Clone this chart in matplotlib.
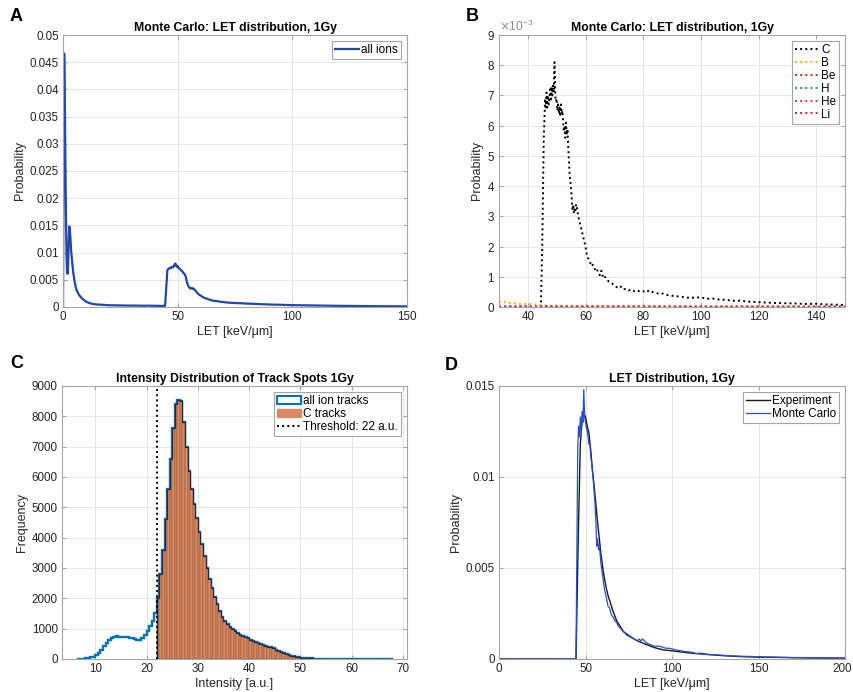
import numpy as np
import matplotlib.pyplot as plt
import matplotlib as mpl
from matplotlib.ticker import FuncFormatter, ScalarFormatter
from matplotlib.patches import Patch
from matplotlib.lines import Line2D
from matplotlib.transforms import ScaledTranslation

mpl.rcParams["font.family"] = ["Liberation Sans", "DejaVu Sans"]
mpl.rcParams["font.size"] = 9
mpl.rcParams["axes.unicode_minus"] = False

# ---- panel A: all ions LET distribution
a_let = [0, 0.25, 0.5, 0.75, 1.0, 1.25, 1.5, 1.75, 2.0, 2.25, 2.5, 2.75, 3.0, 3.25, 3.5,
         4, 4.5, 5, 5.5, 6, 6.5, 7, 8, 9, 10, 11, 12, 13, 14, 15, 17, 19, 21, 23, 25, 27,
         29, 31, 33, 35, 37, 39, 41, 43, 44.5, 45.0, 45.5, 46, 46.5, 47, 47.5, 48, 48.5,
         49, 49.5, 50, 50.5, 51, 51.5, 52, 52.5, 53, 53.5, 54, 54.5, 55, 55.5, 56, 56.5,
         57, 57.5, 58, 58.5, 59, 59.5, 60, 61, 62, 63, 64, 65, 66, 67, 68, 70, 72, 74, 76,
         78, 80, 83, 86, 89, 92, 95, 98, 102, 106, 110, 115, 120, 125, 130, 135, 140, 145, 150]
a_prob = [0.0, 0.030, 0.0466, 0.040, 0.028, 0.018, 0.010, 0.0065, 0.0061, 0.008, 0.0125,
          0.0148, 0.0142, 0.0125, 0.0105, 0.0082, 0.0062, 0.0048, 0.0037, 0.0030, 0.0026,
          0.0022, 0.0017, 0.0013, 0.0010, 0.0008, 0.00065, 0.00055, 0.0005, 0.00045, 0.0004,
          0.00035, 0.0003, 0.0003, 0.00028, 0.00027, 0.00025, 0.00026, 0.00024, 0.00023,
          0.00024, 0.00022, 0.00021, 0.0002, 0.0002, 0.0035, 0.0068, 0.0070, 0.0072, 0.0071,
          0.0074, 0.0073, 0.0077, 0.0080, 0.0074, 0.0075, 0.0071, 0.0070, 0.0067, 0.0066,
          0.0062, 0.0061, 0.0056, 0.0046, 0.0040, 0.0036, 0.0034, 0.0035, 0.0033, 0.0034,
          0.0031, 0.0029, 0.0026, 0.0024, 0.0022, 0.0021, 0.0018, 0.0016, 0.0015, 0.0013,
          0.0012, 0.0011, 0.0011, 0.0010, 0.0009, 0.0008, 0.00075, 0.0007, 0.00068, 0.00062,
          0.00058, 0.00052, 0.00047, 0.00043, 0.0004, 0.00036, 0.00032, 0.0003, 0.00027,
          0.00024, 0.00021, 0.00019, 0.00017, 0.00015, 0.00013, 0.00012, 0.00011]

# ---- panel B: per-ion LET distribution (values in 1e-3)
c_let = [30, 44.5, 45.0, 45.5, 46.0, 46.25, 46.5, 46.75, 47.0, 47.25, 47.5, 47.75, 48.0,
         48.25, 48.5, 48.75, 49.0, 49.25, 49.5, 49.75, 50.0, 50.25, 50.5, 50.75, 51.0, 51.25,
         51.5, 51.75, 52.0, 52.25, 52.5, 52.75, 53.0, 53.25, 53.5, 53.75, 54.0, 54.5, 55.0,
         55.5, 55.75, 56.0, 56.25, 56.5, 56.75, 57.0, 57.5, 58.0, 58.5, 59.0, 59.5, 60.0,
         60.5, 61.0, 61.5, 62.0, 62.5, 63, 63.5, 64, 64.5, 65, 65.5, 66, 66.5, 67, 68, 69,
         70, 71, 72, 73, 74, 75, 76, 77, 78, 79, 80, 81, 82, 83, 84, 85, 86, 88, 90, 92, 94,
         96, 98, 100, 102, 104, 106, 108, 110, 112, 114, 116, 118, 120, 122, 124, 126, 128,
         130, 132, 134, 136, 138, 140, 142, 144, 146, 148, 150]
c_prob_e3 = [0, 0, 2.0, 5.5, 6.9, 6.6, 7.1, 6.6, 7.0, 6.7, 6.9, 7.2, 6.8, 7.3, 7.0, 7.4,
             7.1, 8.1, 7.0, 6.8, 6.9, 6.5, 6.7, 6.4, 6.6, 6.3, 6.7, 6.4, 6.5, 6.1, 5.8, 6.0,
             5.6, 6.1, 5.7, 5.9, 5.3, 4.4, 3.9, 3.2, 3.4, 3.1, 3.3, 3.2, 3.4, 3.3, 3.0, 2.8,
             2.6, 2.4, 2.2, 2.0, 1.7, 1.6, 1.5, 1.35, 1.4, 1.3, 1.2, 1.25, 1.1, 1.05, 1.2,
             1.0, 1.05, 0.95, 0.85, 0.8, 0.7, 0.65, 0.7, 0.58, 0.6, 0.55, 0.58, 0.52, 0.55,
             0.5, 0.52, 0.48, 0.55, 0.5, 0.48, 0.45, 0.47, 0.4, 0.37, 0.35, 0.33, 0.3, 0.31,
             0.32, 0.27, 0.28, 0.25, 0.24, 0.22, 0.2, 0.21, 0.18, 0.17, 0.16, 0.15, 0.14,
             0.13, 0.13, 0.12, 0.12, 0.11, 0.1, 0.1, 0.11, 0.09, 0.08, 0.08, 0.07, 0.07]
b_let = [30, 31, 32, 33, 34, 35, 36, 37, 38, 39, 40, 41, 42, 43, 44, 45, 46, 48, 50, 55, 60,
         70, 80, 100, 150]
b_prob_e3 = [0.18, 0.15, 0.17, 0.13, 0.14, 0.12, 0.13, 0.10, 0.11, 0.10, 0.09, 0.10, 0.08,
             0.09, 0.07, 0.06, 0.05, 0.04, 0.04, 0.03, 0.03, 0.02, 0.02, 0.015, 0.01]
minor_let = [30, 60, 90, 120, 150]
be_prob_e3 = [0.02, 0.015, 0.012, 0.01, 0.01]
h_prob_e3 = [0.006, 0.005, 0.004, 0.004, 0.003]
he_prob_e3 = [0.004, 0.003, 0.003, 0.002, 0.002]
li_prob_e3 = [0.01, 0.01, 0.008, 0.008, 0.006]
ion_names = ["C", "B", "Be", "H", "He", "Li"]
ion_colors = ["black", "#EDB120", "#E5202A", "#1FA03A", "#C030C0", "#D4204A"]

# ---- panel C: intensity histogram, bins of 0.5 a.u. starting at 6.5
BIN_START = 6.5
BIN_WIDTH = 0.5
all_counts = [10, 15, 15, 20, 30, 50, 80, 130, 200, 300, 420, 540, 640, 700, 740, 770, 740,
              730, 720, 720, 700, 690, 650, 620, 630, 700, 800, 930, 1080, 1250, 1500,
              2000, 2800, 3600, 4600, 5600, 6600, 7600, 8400, 8550, 8500, 7800, 7000, 6200,
              5600, 5100, 4650, 4200, 3800, 3400, 3000, 2650, 2350, 2050, 1800, 1580, 1400,
              1260, 1150, 1050, 980, 920, 860, 800, 760, 720, 680, 640, 600, 560, 520, 490,
              460, 440, 410, 380, 350, 310, 270, 240, 200, 170, 140, 110, 90, 70, 55, 42, 35,
              28, 22, 18, 15, 12, 10, 9, 8, 7,
              6, 6, 5, 5, 5, 4, 4, 4, 3, 3, 3, 3, 2, 2, 2, 2, 2, 2, 3, 2, 2, 2, 2, 3, 2]
THRESHOLD = 22

# ---- panel D: experiment vs Monte Carlo
exp_let = [0, 44.5, 45, 46, 47, 48, 49, 50, 51, 52, 53, 54, 55, 56, 57, 58, 59, 60, 61, 62,
           63, 64, 66, 68, 70, 72, 75, 78, 80, 85, 90, 95, 100, 110, 120, 130, 140, 150,
           160, 170, 180, 190, 200]
exp_prob = [0, 0, 0.0025, 0.0075, 0.0118, 0.0130, 0.0135, 0.0133, 0.0128, 0.0124, 0.0115,
            0.0104, 0.0095, 0.0085, 0.0075, 0.0066, 0.0057, 0.0050, 0.0044, 0.0039, 0.0035,
            0.0032, 0.0026, 0.0021, 0.0018, 0.0015, 0.0013, 0.0011, 0.0010, 0.0008, 0.00062,
            0.0005, 0.00045, 0.00033, 0.00025, 0.00018, 0.00013, 0.0001, 0.00009, 0.00007,
            0.00006, 0.00005, 0.00005]
mc_let = [0, 44.5, 45.5, 46, 46.5, 47, 47.5, 48, 48.5, 49, 49.5, 50, 50.5, 51, 51.5, 52,
          52.5, 53, 53.5, 54, 54.5, 55, 55.5, 56, 56.5, 57, 57.5, 58, 58.5, 59, 59.5, 60,
          61, 62, 63, 64, 65, 66, 67, 68, 69, 70, 72, 74, 76, 78, 80, 81, 82, 83, 85, 87,
          90, 93, 96, 99, 102, 105, 108, 111, 114, 117, 120, 125, 130, 135, 140, 145, 150,
          155, 160, 165, 170, 175, 180, 185, 190, 195, 200]
mc_prob = [0, 0, 0.0115, 0.0128, 0.0122, 0.0133, 0.0124, 0.0136, 0.0130, 0.0148, 0.0133,
           0.0130, 0.0127, 0.0125, 0.0122, 0.0118, 0.0119, 0.0112, 0.0108, 0.0103, 0.0098,
           0.0092, 0.0085, 0.0075, 0.0062, 0.0066, 0.0060, 0.0063, 0.0057, 0.0052, 0.0048,
           0.0045, 0.0038, 0.0034, 0.0029, 0.0028, 0.0024, 0.0023, 0.0021, 0.0020, 0.0018,
           0.0017, 0.0015, 0.0013, 0.0012, 0.0011, 0.0010, 0.0011, 0.0010, 0.0011, 0.0009,
           0.0008, 0.0007, 0.0007, 0.0006, 0.00058, 0.0005, 0.00045, 0.0004, 0.00038, 0.0003,
           0.00032, 0.00026, 0.00023, 0.0002, 0.00017, 0.00015, 0.00014, 0.00012, 0.00011,
           0.0001, 0.00009, 0.00008, 0.00008, 0.00006, 0.00007, 0.00005, 0.00005, 0.00004]

SPINE = "#A6A6A6"
TXT = "#262626"


def style_ax(ax):
    for s in ax.spines.values():
        s.set_color(SPINE)
        s.set_linewidth(0.8)
    ax.tick_params(direction="in", top=True, right=True, colors=SPINE,
                   labelcolor=TXT, length=3, labelsize=8.4, pad=3)
    ax.grid(True, color="#E6E6E6", linewidth=0.7)
    ax.set_axisbelow(True)


def legend(ax, handles, labels, **kw):
    leg = ax.legend(handles, labels, loc="upper right", fancybox=False, framealpha=1,
                    edgecolor=SPINE, fontsize=8.5, borderaxespad=0.5, borderpad=0.25,
                    labelspacing=0.08, handletextpad=0.2, handlelength=2.0, **kw)
    leg.get_frame().set_linewidth(0.8)
    return leg


gfmt = FuncFormatter(lambda v, p: "%g" % round(v, 6))
TITLE_KW = dict(fontweight="bold", fontsize=8.8, pad=3)

fig = plt.figure(figsize=(8.54, 6.92), dpi=100)
axA = fig.add_axes([0.0738, 0.5564, 0.4028, 0.393])
axB = fig.add_axes([0.5843, 0.5564, 0.4052, 0.393])
axC = fig.add_axes([0.0726, 0.0477, 0.4040, 0.3945])
axD = fig.add_axes([0.5843, 0.0477, 0.4052, 0.3945])

# A
style_ax(axA)
lA, = axA.plot(a_let, a_prob, color="#2048A8", lw=1.6)
axA.set_xlim(0, 150)
axA.set_ylim(0, 0.05)
axA.set_xticks([0, 50, 100, 150])
axA.set_yticks(np.arange(0, 0.0501, 0.005))
axA.yaxis.set_major_formatter(gfmt)
axA.set_xlabel("LET [keV/μm]", color=TXT, labelpad=2)
axA.set_ylabel("Probability", color=TXT, labelpad=3)
axA.set_title("Monte Carlo: LET distribution, 1Gy", **TITLE_KW)
legend(axA, [lA], ["all ions"])

# B
style_ax(axB)
ion_x = [c_let, b_let, minor_let, minor_let, minor_let, minor_let]
ion_y = [c_prob_e3, b_prob_e3, be_prob_e3, h_prob_e3, he_prob_e3, li_prob_e3]
handlesB = []
for xs, ys, col in zip(ion_x, ion_y, ion_colors):
    ln, = axB.plot(xs, np.array(ys) * 1e-3, ls=":", color=col, lw=1.4)
    handlesB.append(ln)
axB.set_xlim(30, 150)
axB.set_ylim(0, 9e-3)
axB.set_xticks([40, 60, 80, 100, 120, 140])
axB.set_yticks(np.arange(0, 9.01e-3, 1e-3))
sf = ScalarFormatter(useMathText=True)
sf.set_powerlimits((-3, -3))
axB.yaxis.set_major_formatter(sf)
axB.yaxis.get_offset_text().set_color("#8C8C8C")
axB.yaxis.get_offset_text().set_fontsize(8.6)
axB.set_xlabel("LET [keV/μm]", color=TXT, labelpad=2)
axB.set_ylabel("Probability", color=TXT, labelpad=3)
axB.set_title("Monte Carlo: LET distribution, 1Gy", **TITLE_KW)
legend(axB, handlesB, ion_names)

# C
style_ax(axC)
counts = np.array(all_counts, dtype=float)
edges = BIN_START + BIN_WIDTH * np.arange(len(counts) + 1)
left = edges[:-1]
c_mask = left >= THRESHOLD
axC.stairs(counts, edges, color="#0072BD", lw=1.7)
axC.bar(left[c_mask], counts[c_mask], width=BIN_WIDTH, align="edge",
        color="#D98A62", edgecolor="#8A5238", linewidth=0.35)
c_edges = np.append(left[c_mask], left[c_mask][-1] + BIN_WIDTH)
axC.stairs(counts[c_mask], c_edges, color="#1B2B4B", lw=0.9)
axC.axvline(THRESHOLD, color="black", ls=":", lw=1.4)
axC.set_xlim(3.5, 70.8)
axC.set_ylim(0, 9000)
axC.set_xticks(np.arange(10, 71, 10))
axC.set_yticks(np.arange(0, 9001, 1000))
axC.set_xlabel("Intensity [a.u.]", color=TXT, labelpad=2)
axC.set_ylabel("Frequency", color=TXT, labelpad=3)
axC.set_title("Intensity Distribution of Track Spots 1Gy", **TITLE_KW)
hC = [Patch(facecolor="white", edgecolor="#0072BD", lw=1.5),
      Patch(facecolor="#D98A62", edgecolor="#D98A62"),
      Line2D([], [], color="black", ls=":", lw=1.4)]
legend(axC, hC, ["all ion tracks", "C tracks", "Threshold: 22 a.u."])

# D
style_ax(axD)
lE, = axD.plot(exp_let, exp_prob, color="#1A1A1A", lw=1.0)
lM, = axD.plot(mc_let, mc_prob, color="#2A4FC8", lw=0.9)
axD.set_xlim(0, 200)
axD.set_ylim(0, 0.015)
axD.set_xticks([0, 50, 100, 150, 200])
axD.set_yticks([0, 0.005, 0.01, 0.015])
axD.yaxis.set_major_formatter(gfmt)
axD.set_xlabel("LET [keV/μm]", color=TXT, labelpad=2)
axD.set_ylabel("Probability", color=TXT, labelpad=3)
axD.set_title("LET Distribution, 1Gy", **TITLE_KW)
legend(axD, [lE, lM], ["Experiment", "Monte Carlo"])
fig.canvas.draw()
last = axD.get_xticklabels()[-1]
last.set_transform(last.get_transform() + ScaledTranslation(-3 / 100, 0, fig.dpi_scale_trans))

# panel letters
for lab, (px, py) in zip("ABCD", [(10, 21), (466, 21), (10, 368), (445, 370)]):
    fig.text(px / 854, 1 - py / 692, lab, fontsize=13, fontweight="bold", color="black")

fig.savefig("out.png", dpi=100)
